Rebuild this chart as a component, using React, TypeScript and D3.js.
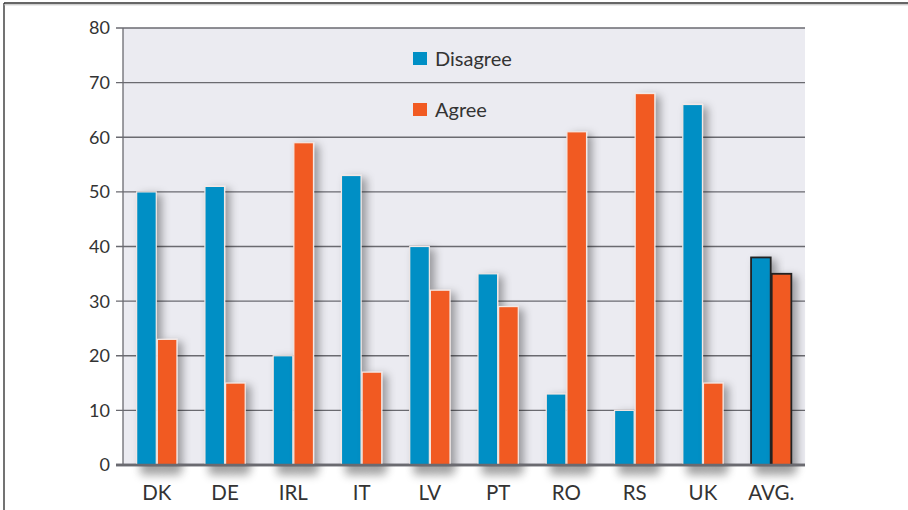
import React from "react";
import * as d3 from "d3";

const countries = ["DK", "DE", "IRL", "IT", "LV", "PT", "RO", "RS", "UK", "AVG."];
const disagree = [50, 51, 20, 53, 40, 35, 13, 10, 66, 38];
const agree = [23, 15, 59, 17, 32, 29, 61, 68, 15, 35];
const yTicks = [0, 10, 20, 30, 40, 50, 60, 70, 80];
const seriesNames = ["Disagree", "Agree"];

const BLUE = "#008fc5";
const ORANGE = "#f15a22";
const FONT = "Lato, 'Open Sans', sans-serif";

export default function App() {
  const W = 908, H = 510;
  const left = 123, right = 805, top = 28, bottom = 465;

  const x = d3.scaleBand<string>().domain(countries).range([left, right]).paddingInner(0.41).paddingOuter(0.2);
  const y = d3.scaleLinear().domain([0, 80]).range([bottom, top]);
  const inner = d3.scaleBand<string>().domain(seriesNames).range([0, x.bandwidth()]).paddingInner(0.05);

  const rows = countries.map((c, i) => ({ c, vals: [disagree[i], agree[i]] }));

  return (
    <svg width={W} height={H} style={{ position: "absolute", left: 0, top: 0, background: "#fff" }}>
      <defs>
        <filter id="shadow" x="-50%" y="-20%" width="220%" height="150%">
          <feDropShadow dx="5" dy="3" stdDeviation="4" floodColor="#000" floodOpacity="0.35" />
        </filter>
        <filter id="axisShadow" x="-10%" y="-200%" width="120%" height="600%">
          <feGaussianBlur stdDeviation="5" />
        </filter>
      </defs>
      {/* frame */}
      <line x1={4} x2={4} y1={3} y2={H} stroke="#444" strokeWidth={1.5} />
      <line x1={4} x2={W} y1={3} y2={3} stroke="#333" strokeWidth={1.5} />
      <line x1={4} x2={W} y1={4.8} y2={4.8} stroke="#bbb" strokeWidth={1} />

      <rect x={left} y={top} width={right - left} height={bottom - top} fill="#ebebf1" />
      {yTicks.map(t => (
        <g key={t}>
          <line x1={left - 7} x2={right} y1={y(t)} y2={y(t)} stroke="#6a6a70" strokeWidth={t === 0 ? 2.5 : 1.3} />
          <text x={110} y={y(t)} dy="0.36em" textAnchor="end" fontSize={18} fill="#333" fontFamily={FONT}>{t}</text>
        </g>
      ))}
      <line x1={left} x2={left} y1={top} y2={bottom} stroke="#6a6a70" strokeWidth={1.3} />

      {/* shadow below baseline */}
      <g filter="url(#axisShadow)" opacity={0.35}>
        {rows.map(r => (
          <rect key={r.c} x={(x(r.c) as number) + 4} y={bottom + 2} width={x.bandwidth()} height={8} fill="#000" />
        ))}
      </g>

      {rows.map((r, gi) => {
        const avg = gi === rows.length - 1;
        return (
          <g key={r.c} transform={`translate(${x(r.c)},0)`}>
            {r.vals.map((v, si) => (
              <rect
                key={si}
                x={inner(seriesNames[si])}
                y={y(v)}
                width={inner.bandwidth()}
                height={bottom - y(v)}
                fill={si === 0 ? BLUE : ORANGE}
                stroke={avg ? "#222" : "#f4e8e4"}
                strokeWidth={avg ? 1.8 : 1.2}
                filter="url(#shadow)"
              />
            ))}
          </g>
        );
      })}
      <line x1={left - 7} x2={right} y1={bottom} y2={bottom} stroke="#6a6a70" strokeWidth={2.5} />

      {countries.map(c => (
        <text key={c} x={(x(c) as number) + x.bandwidth() / 2} y={500} textAnchor="middle" fontSize={20.5} fill="#333" fontFamily={FONT}>{c}</text>
      ))}

      {/* legend */}
      {seriesNames.map((s, i) => (
        <g key={s} transform={`translate(413,${52 + i * 51})`}>
          <rect width={14} height={13} fill={i === 0 ? BLUE : ORANGE} />
          <text x={22} y={14} fontSize={20} fill="#333" fontFamily={FONT}>{s}</text>
        </g>
      ))}
    </svg>
  );
}
